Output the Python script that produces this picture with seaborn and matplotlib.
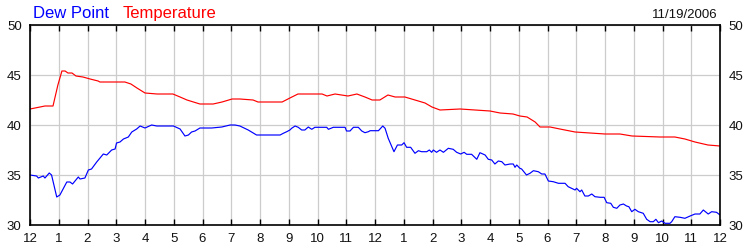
import matplotlib
matplotlib.use("Agg")
import matplotlib.pyplot as plt
import seaborn as sns
import pandas as pd

# ---- data (hours since midnight, degrees F) ----
temp_hours = [0.0, 0.35, 0.52, 0.8, 0.97, 1.11, 1.22, 1.32, 1.46, 1.6, 1.84, 2.09, 2.37, 2.43,
              3.3, 3.51, 3.72, 4.0, 4.42, 4.97, 5.22, 5.46, 5.91, 6.37, 6.68, 7.03, 7.3, 7.76,
              7.93, 8.77, 9.04, 9.32, 9.74, 10.16, 10.33, 10.61, 11.06, 11.37, 11.65, 11.9,
              12.17, 12.45, 12.7, 13.04, 13.39, 13.74, 13.98, 14.26, 14.96, 15.48, 16.0, 16.35,
              16.8, 17.04, 17.29, 17.57, 17.74, 18.09, 18.43, 18.96, 19.48, 20.0, 20.52, 20.94,
              21.91, 22.43, 22.78, 23.13, 23.58, 24.0]
temperature = [41.6, 41.8, 41.9, 41.9, 44.0, 45.4, 45.4, 45.2, 45.2, 44.9, 44.8, 44.6, 44.4, 44.3,
               44.3, 44.1, 43.7, 43.2, 43.1, 43.1, 42.8, 42.5, 42.1, 42.1, 42.3, 42.6, 42.6, 42.5,
               42.3, 42.3, 42.7, 43.1, 43.1, 43.1, 42.9, 43.1, 42.9, 43.1, 42.8, 42.5,
               42.5, 43.0, 42.8, 42.8, 42.5, 42.2, 41.8, 41.5, 41.6, 41.5, 41.4, 41.2,
               41.1, 40.9, 40.8, 40.3, 39.8, 39.8, 39.6, 39.3, 39.2, 39.1, 39.1, 38.9,
               38.8, 38.8, 38.6, 38.3, 38.0, 37.9]

dew_hours = [0.0, 0.23, 0.29, 0.46, 0.52, 0.67, 0.75, 0.93, 1.04, 1.28, 1.39, 1.48, 1.68, 1.74,
             1.91, 2.03, 2.14, 2.32, 2.55, 2.67, 2.84, 2.96, 3.01, 3.13, 3.25, 3.42, 3.54, 3.71,
             3.83, 4.0, 4.23, 4.41, 4.99, 5.22, 5.39, 5.51, 5.62, 5.74, 5.91, 6.32, 6.67, 6.96,
             7.13, 7.3, 7.59, 7.88, 8.70, 8.81, 8.93, 9.04, 9.10, 9.22, 9.33, 9.45, 9.56, 9.68,
             9.80, 9.91, 10.32, 10.38, 10.55, 10.96, 11.01, 11.13, 11.25, 11.42, 11.54, 11.65,
             11.77, 11.83, 12.12, 12.27, 12.35, 12.46, 12.66, 12.78, 12.93, 13.01, 13.10, 13.24,
             13.39, 13.51, 13.62, 13.80, 13.89, 13.97, 14.03, 14.14, 14.26, 14.38, 14.55, 14.72,
             14.84, 14.98, 15.10, 15.19, 15.36, 15.54, 15.65, 15.83, 15.94, 16.06, 16.17, 16.29,
             16.41, 16.52, 16.70, 16.81, 16.87, 16.93, 17.04, 17.10, 17.27, 17.39, 17.51, 17.68,
             17.80, 17.91, 18.03, 18.20, 18.38, 18.61, 18.72, 18.84, 18.96, 19.01, 19.13, 19.19,
             19.30, 19.42, 19.54, 19.65, 19.83, 19.97, 20.06, 20.20, 20.29, 20.41, 20.52, 20.64,
             20.75, 20.83, 20.93, 21.04, 21.16, 21.33, 21.45, 21.57, 21.68, 21.77, 21.86, 21.97,
             22.09, 22.26, 22.32, 22.43, 22.61, 22.78, 22.96, 23.13, 23.30, 23.42, 23.59, 23.71,
             23.88, 24.0]
dew_point = [35.0, 34.9, 34.7, 34.9, 34.7, 35.2, 35.0, 32.8, 33.0, 34.3, 34.3, 34.1, 34.8, 34.6,
             34.7, 35.5, 35.6, 36.3, 37.1, 37.0, 37.5, 37.6, 38.2, 38.3, 38.6, 38.8, 39.3, 39.6,
             39.9, 39.7, 40.0, 39.9, 39.9, 39.6, 38.9, 39.0, 39.3, 39.4, 39.7, 39.7, 39.8, 40.0,
             40.0, 39.9, 39.5, 39.0, 39.0, 39.17, 39.33, 39.5, 39.67, 39.9, 39.77, 39.5, 39.5, 39.8,
             39.57, 39.77, 39.77, 39.57, 39.77, 39.77, 39.4, 39.4, 39.77, 39.77, 39.4, 39.23,
             39.33, 39.43, 39.43, 39.9, 39.67, 38.67, 37.33, 38.0, 38.0, 38.23, 37.77, 37.77,
             37.17, 37.43, 37.33, 37.33, 37.5, 37.27, 37.5, 37.27, 37.5, 37.27, 37.67, 37.57,
             37.27, 37.1, 37.27, 37.07, 37.07, 36.57, 37.23, 37.0, 36.57, 36.5, 36.1, 36.4,
             36.33, 36.0, 36.1, 36.1, 35.77, 36.0, 35.67, 35.6, 35.0, 35.17, 35.43, 35.33,
             35.1, 35.1, 34.4, 34.33, 34.17, 34.17, 33.83, 33.67, 33.5, 33.67, 33.33, 33.5,
             32.9, 32.9, 33.1, 32.83, 32.77, 32.77, 32.23, 32.17, 31.77, 31.67, 32.0, 32.1,
             31.9, 31.83, 31.33, 31.57, 31.33, 31.17, 30.57, 30.33, 30.33, 30.57, 30.23, 30.4,
             30.17, 30.17, 30.33, 30.83, 30.77, 30.67, 30.9, 31.1, 31.1, 31.5, 31.1, 31.33,
             31.27, 31.0]

hour_labels = ['12'] + [str(h) for h in range(1, 12)] + ['12'] + [str(h) for h in range(1, 12)] + ['12']
y_ticks = [30, 35, 40, 45, 50]
series_names = ['Dew Point', 'Temperature']
date_label = '11/19/2006'

# ---- styling ----
sns.set_style("white")
plt.rcParams['font.family'] = ['Liberation Sans', 'DejaVu Sans']

fig = plt.figure(figsize=(7.5, 2.5), dpi=100)
ax = fig.add_axes([0.04, 0.1, 0.92, 0.8])

temp_df = pd.DataFrame({'hour': temp_hours, 'value': temperature})
dew_df = pd.DataFrame({'hour': dew_hours, 'value': dew_point})

sns.lineplot(data=dew_df, x='hour', y='value', color='#0000ff', linewidth=0.85, ax=ax)
sns.lineplot(data=temp_df, x='hour', y='value', color='#ff0000', linewidth=0.85, ax=ax)

ax.set_xlim(0, 24)
ax.set_ylim(30, 50)
ax.set_xticks(range(25))
ax.set_xticklabels(hour_labels)
ax.set_yticks(y_ticks)
ax.set_yticklabels([str(v) for v in y_ticks])
ax.set_xlabel('')
ax.set_ylabel('')

ax.grid(True, color='#cccccc', linewidth=0.9)
ax.set_axisbelow(True)
for s in ax.spines.values():
    s.set_visible(True)
    s.set_color('black')
    s.set_linewidth(1.2)

ax.tick_params(axis='x', which='both', direction='in', top=True, bottom=True,
               length=4, width=1.0, color='black', labelsize=9.5, pad=6, labelcolor='#111111')
ax.tick_params(axis='y', which='both', left=False, right=False, labelleft=True,
               labelright=True, length=0, labelsize=9.5, pad=6, labelcolor='#111111')

fig.text(33 / 750, 1 - 18 / 250, series_names[0], color='#0000ff', fontsize=12, va='baseline', ha='left')
fig.text(123 / 750, 1 - 18 / 250, series_names[1], color='#ff0000', fontsize=12, va='baseline', ha='left')
fig.text(718 / 750, 1 - 18 / 250, date_label, color='#111111', fontsize=9.5, va='baseline', ha='right')

fig.savefig('out.png', dpi=100)
